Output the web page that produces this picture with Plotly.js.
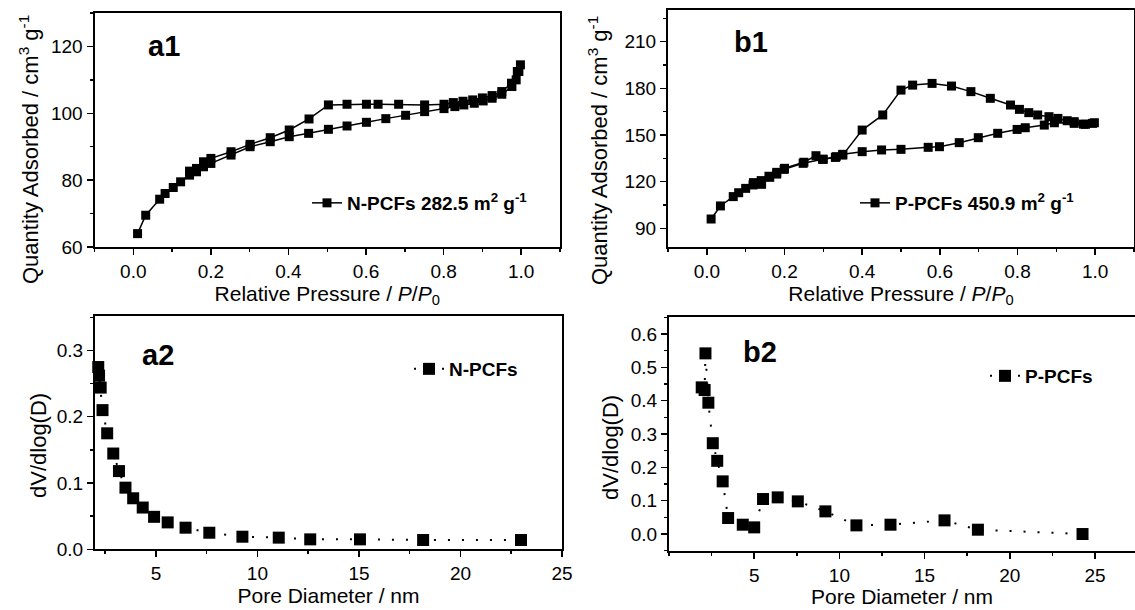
<!DOCTYPE html>
<html><head><meta charset="utf-8">
<script src="https://cdn.plot.ly/plotly-3.0.1.min.js"></script>
<style>html,body{margin:0;padding:0;background:#fff;overflow:hidden}#chart{width:1135px;height:610px}</style>
</head><body><div id="chart"></div>
<script>
// a1: N2 isotherm, N-PCFs (adsorption then desorption)
const a1P = [0.011,0.032,0.068,0.082,0.103,0.122,0.145,0.163,0.181,0.200,0.252,0.301,0.353,0.402,0.452,0.503,0.551,0.601,0.651,0.702,0.751,0.801,0.829,0.852,0.879,0.902,0.925,0.950,0.976,0.987,0.994,0.998,
             0.990,0.975,0.950,0.925,0.900,0.875,0.850,0.825,0.801,0.751,0.684,0.631,0.601,0.551,0.503,0.453,0.402,0.353,0.301,0.252,0.200,0.181,0.163,0.145];
const a1Q = [64.0,69.5,74.3,76.0,77.8,79.5,81.5,82.5,84.0,85.0,87.5,90.0,91.5,93.0,94.0,95.2,96.2,97.3,98.4,99.4,100.5,101.4,102.0,102.5,103.0,103.7,104.5,105.7,108.0,110.0,112.5,114.5,
             112.5,109.0,106.5,105.3,104.6,104.0,103.6,103.2,102.7,102.5,102.7,102.7,102.7,102.7,102.5,98.3,95.0,92.7,90.7,88.5,86.5,85.5,83.5,82.7];
// b1: N2 isotherm, P-PCFs
const b1P = [0.011,0.035,0.068,0.082,0.100,0.119,0.141,0.162,0.180,0.199,0.248,0.298,0.331,0.350,0.400,0.450,0.500,0.570,0.599,0.650,0.699,0.749,0.799,0.820,0.869,0.895,0.946,0.975,0.993,
             0.998,0.970,0.946,0.928,0.904,0.881,0.852,0.829,0.805,0.782,0.730,0.680,0.630,0.580,0.530,0.500,0.453,0.400,0.350,0.333,0.300,0.281,0.250,0.200,0.180,0.160,0.140,0.120];
const b1Q = [96.0,104.4,110.4,112.9,115.7,117.9,118.3,122.8,124.9,127.9,131.8,134.4,135.6,137.6,139.3,140.4,140.8,142.1,142.5,145.1,148.3,151.1,153.6,154.7,156.4,157.9,157.5,156.9,157.5,
             157.9,157.0,158.6,159.2,160.7,161.8,162.9,164.4,166.5,169.3,173.6,177.9,181.5,183.2,182.1,178.9,162.9,153.2,137.1,136.1,134.4,136.7,132.5,128.6,126.0,123.5,120.7,119.4];
// a2: pore size distribution, N-PCFs
const a2D = [2.16,2.20,2.28,2.37,2.60,2.90,3.18,3.50,3.88,4.35,4.91,5.58,6.46,7.63,9.26,11.05,12.6,15.05,18.16,22.98];
const a2V = [0.275,0.262,0.244,0.210,0.175,0.1445,0.118,0.093,0.077,0.063,0.049,0.0406,0.0326,0.025,0.019,0.0176,0.015,0.015,0.014,0.014];
// b2: pore size distribution, P-PCFs
const b2D = [1.92,2.09,2.14,2.31,2.57,2.83,3.15,3.47,4.33,5.00,5.52,6.38,7.56,9.18,11.0,13.0,16.17,18.13,24.27];
const b2V = [0.440,0.432,0.542,0.394,0.2725,0.2196,0.158,0.048,0.028,0.020,0.105,0.110,0.098,0.068,0.026,0.028,0.041,0.013,0.000];

const names = ['<b>N-PCFs 282.5 m<sup>2</sup> g<sup>-1</sup></b>','<b>P-PCFs 450.9 m<sup>2</sup> g<sup>-1</sup></b>','<b>N-PCFs</b>','<b>P-PCFs</b>'];
const panelLabels = ['a1','b1','a2','b2'];
const isoXTitle = 'Relative Pressure / <i>P</i>/<i>P</i><sub>0</sub>';
const isoYTitle = 'Quantity Adsorbed / cm<sup>3</sup> g<sup>-1</sup>';
const psdXTitle = 'Pore Diameter / nm';
const psdYTitle = 'dV/dlog(D)';
const psdTicks = [5, 10, 15, 20, 25];

const FONT = 'Liberation Sans, Arial, sans-serif';
const W = 1135, H = 610;
const px = v => v / W, py = v => 1 - v / H;

function trace(x, y, xa, ya, name, leg, dotted, msize) {
  return {x, y, xaxis: xa, yaxis: ya, name, legend: leg, type: 'scatter', mode: 'lines+markers', cliponaxis: false,
    line: {color: '#000', width: dotted ? 2 : 1.5, dash: dotted ? '2px,12px' : 'solid'},
    marker: {symbol: 'square', size: msize, color: '#000'}, showlegend: true};
}
const data = [
  trace(a1P, a1Q, 'x', 'y', names[0], 'legend', false, 9),
  trace(b1P, b1Q, 'x2', 'y2', names[1], 'legend2', false, 9),
  trace(a2D, a2V, 'x3', 'y3', names[2], 'legend3', true, 12),
  trace(b2D, b2V, 'x4', 'y4', names[3], 'legend4', true, 12)
];

const minorTick = d => ({dtick: d, ticks: 'outside', ticklen: 3, tickwidth: 1.5, tickcolor: '#000'});
function ax(o) {
  return Object.assign({
    showline: true, linewidth: 2, linecolor: '#000', mirror: true, showgrid: false, zeroline: false,
    ticks: 'outside', ticklen: 6, tickwidth: 1.5, tickcolor: '#000',
    tickfont: {family: FONT, size: 19, color: '#000'}, automargin: false
  }, o);
}
function legend(x, y) {
  return {x: x, y: y, xanchor: 'left', yanchor: 'middle', bgcolor: 'rgba(0,0,0,0)', borderwidth: 0,
    font: {family: FONT, size: 19, color: '#000'}};
}
const tfont = {family: FONT, size: 21, color: '#000'};
const yfont = {family: FONT, size: 22, color: '#000'};
function panel(t, x, y) {
  return {text: '<b>' + t + '</b>', x: px(x), y: py(y), xref: 'paper', yref: 'paper', xanchor: 'left', yanchor: 'middle',
    showarrow: false, font: {family: FONT, size: 29, color: '#000'}};
}
function ytitle(t, x, y) {
  return {text: t, x: px(x), y: py(y), xref: 'paper', yref: 'paper', xanchor: 'center', yanchor: 'middle',
    textangle: -90, showarrow: false, font: yfont};
}

const layout = {
  width: W, height: H, margin: {l: 0, r: 0, t: 0, b: 0}, paper_bgcolor: '#fff', plot_bgcolor: '#fff',
  font: {family: FONT, color: '#000'},
  xaxis: ax({domain: [px(94.5), px(560)], anchor: 'y', range: [-0.1, 1.1], tick0: 0, dtick: 0.2, tickformat: '.1f',
    minor: minorTick(0.1), title: {text: isoXTitle, font: tfont, standoff: 4}}),
  yaxis: ax({domain: [py(247), py(13)], anchor: 'x', range: [60, 130], tick0: 0, dtick: 20, minor: minorTick(10)}),
  xaxis2: ax({domain: [px(668), px(1134)], anchor: 'y2', range: [-0.1, 1.1], tick0: 0, dtick: 0.2, tickformat: '.1f',
    minor: minorTick(0.1), title: {text: isoXTitle, font: tfont, standoff: 4}}),
  yaxis2: ax({domain: [py(247), py(10)], anchor: 'x2', range: [78, 230.4], tick0: 0, dtick: 30, minor: minorTick(15)}),
  xaxis3: ax({domain: [px(95), px(562)], anchor: 'y3', range: [2, 25], tickvals: psdTicks,
    minor: minorTick(2.5), title: {text: psdXTitle, font: tfont, standoff: 2}}),
  yaxis3: ax({domain: [py(549.3), py(316)], anchor: 'x3', range: [0, 0.352], tick0: 0, dtick: 0.1, tickformat: '.1f',
    minor: minorTick(0.05)}),
  xaxis4: ax({domain: [px(669), 1], anchor: 'y4', range: [0, 27.35], tickvals: psdTicks,
    minor: minorTick(2.5), title: {text: psdXTitle, font: tfont, standoff: 2}}),
  yaxis4: ax({domain: [py(550.7), py(316.7)], anchor: 'x4', range: [-0.05, 0.652], tick0: 0, dtick: 0.1, tickformat: '.1f',
    mirror: false, minor: minorTick(0.05)}),
  legend: legend(px(307), py(203)),
  legend2: legend(px(855), py(203)),
  legend3: legend(px(409), py(369)),
  legend4: legend(px(985), py(376)),
  annotations: [
    panel(panelLabels[0], 146, 46), panel(panelLabels[1], 732, 42),
    panel(panelLabels[2], 140, 355), panel(panelLabels[3], 741, 352),
    ytitle(isoYTitle, 29, 150), ytitle(isoYTitle, 598, 151),
    ytitle(psdYTitle, 38, 446), ytitle(psdYTitle, 610, 448)
  ]
};
Plotly.newPlot('chart', data, layout, {displayModeBar: false, staticPlot: true});
</script></body></html>
